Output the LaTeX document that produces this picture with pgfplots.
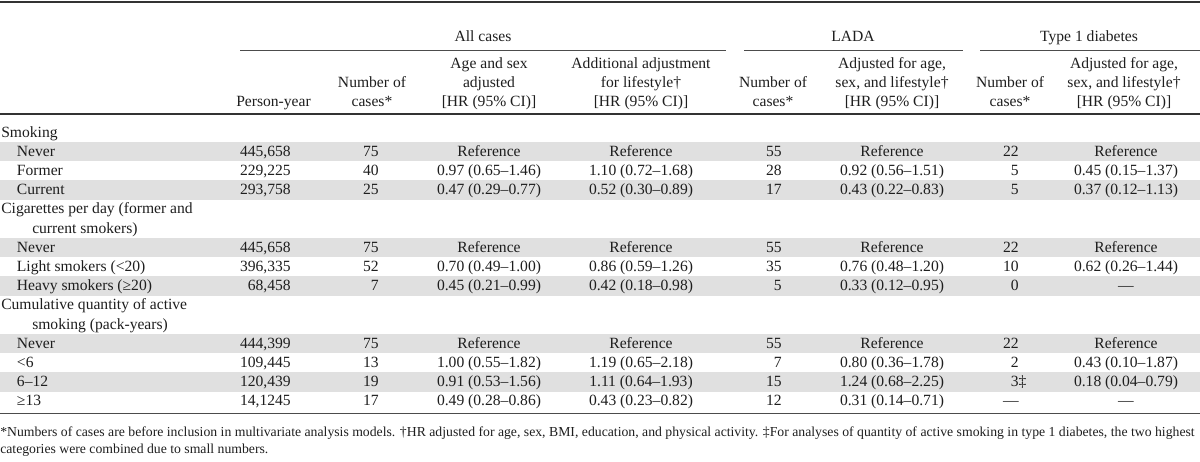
\documentclass[border=0pt]{standalone}
\usepackage{pgfplots}
\pgfplotsset{compat=1.18}
\usepackage{fontspec}
\setmainfont{Liberation Serif}
\definecolor{rowgray}{RGB}{224,224,224}
\definecolor{txt}{RGB}{30,30,30}
\newcommand\tl[3]{\node[anchor=mid west] at (axis cs:#1,#2) {#3};}
\newcommand\tc[3]{\node[anchor=mid] at (axis cs:#1,#2) {#3};}
\newcommand\tr[3]{\node[anchor=mid east] at (axis cs:#1,#2) {#3};}
% y, person-year, n, hr1, hr2, n2, hr3, n3, hr4
\newcommand\datarow[9]{%
  \tr{291}{#1}{#2}\tr{379}{#1}{#3}\tc{489}{#1}{#4}\tc{641}{#1}{#5}%
  \tr{782}{#1}{#6}\tc{892}{#1}{#7}\tr{1019}{#1}{#8}\tc{1126}{#1}{#9}}
\newcommand\band[1]{\addplot[fill=rowgray, draw=none] coordinates {(0,#1-11.4) (1200,#1-11.4) (1200,#1+7.8) (0,#1+7.8)} -- cycle;}
\begin{document}
\begin{tikzpicture}[every node/.style={inner sep=0pt, text=txt, font=\fontsize{11.7pt}{14pt}\selectfont}]
\begin{axis}[
  scale only axis, width=900pt, height=345.75pt,
  xmin=0, xmax=1200, ymin=0, ymax=461, y dir=reverse,
  hide axis, clip=false]
% gray bands
\addplot[fill=rowgray, draw=none] coordinates {(0,141.9) (1200,141.9) (1200,161.1) (0,161.1)} -- cycle;
\addplot[fill=rowgray, draw=none] coordinates {(0,180.3) (1200,180.3) (1200,199.5) (0,199.5)} -- cycle;
\addplot[fill=rowgray, draw=none] coordinates {(0,237.9) (1200,237.9) (1200,257.1) (0,257.1)} -- cycle;
\addplot[fill=rowgray, draw=none] coordinates {(0,276.3) (1200,276.3) (1200,295.5) (0,295.5)} -- cycle;
\addplot[fill=rowgray, draw=none] coordinates {(0,333.9) (1200,333.9) (1200,353.1) (0,353.1)} -- cycle;
\addplot[fill=rowgray, draw=none] coordinates {(0,372.3) (1200,372.3) (1200,391.5) (0,391.5)} -- cycle;
% rules
\draw[line width=1.5pt, color=black!80] (axis cs:0,1.5) -- (axis cs:1200,1.5);
\draw[line width=1.5pt, color=black!80] (axis cs:0,113.5) -- (axis cs:1200,113.5);
\draw[line width=0.75pt, color=black!70] (axis cs:0,413) -- (axis cs:1200,413);
\draw[line width=0.7pt, color=black!70] (axis cs:240,50.7) -- (axis cs:726,50.7);
\draw[line width=0.7pt, color=black!70] (axis cs:744,50.7) -- (axis cs:963,50.7);
\draw[line width=0.7pt, color=black!70] (axis cs:980,50.7) -- (axis cs:1200,50.7);
% header
\tc{483}{38.3}{All cases}
\tc{853}{38.3}{LADA}
\tc{1089}{38.3}{Type 1 diabetes}
\tc{273.5}{103}{Person-year}
\tc{372}{84}{Number of}\tc{372}{103}{cases*}
\tc{489}{65}{Age and sex}\tc{489}{84}{adjusted}\tc{489}{103}{[HR (95\% CI)]}
\tc{641}{65}{Additional adjustment}\tc{641}{84}{for lifestyle†}\tc{641}{103}{[HR (95\% CI)]}
\tc{773}{84}{Number of}\tc{773}{103}{cases*}
\tc{892}{65}{Adjusted for age,}\tc{892}{84}{sex, and lifestyle†}\tc{892}{103}{[HR (95\% CI)]}
\tc{1010}{84}{Number of}\tc{1010}{103}{cases*}
\tc{1124}{65}{Adjusted for age,}\tc{1124}{84}{sex, and lifestyle†}\tc{1124}{103}{[HR (95\% CI)]}
% Smoking
\tl{1}{134}{Smoking}
\tl{16.7}{153.3}{Never}
\datarow{153.3}{445,658}{75}{Reference}{Reference}{55}{Reference}{22}{Reference}
\tl{16.7}{172.5}{Former}
\datarow{172.5}{229,225}{40}{0.97 (0.65–1.46)}{1.10 (0.72–1.68)}{28}{0.92 (0.56–1.51)}{5}{0.45 (0.15–1.37)}
\tl{16.7}{191.7}{Current}
\datarow{191.7}{293,758}{25}{0.47 (0.29–0.77)}{0.52 (0.30–0.89)}{17}{0.43 (0.22–0.83)}{5}{0.37 (0.12–1.13)}
% Cigarettes
\tl{1}{210.9}{Cigarettes per day (former and}
\tl{32}{230.1}{current smokers)}
\tl{16.7}{249.3}{Never}
\datarow{249.3}{445,658}{75}{Reference}{Reference}{55}{Reference}{22}{Reference}
\tl{16.7}{268.5}{Light smokers (<20)}
\datarow{268.5}{396,335}{52}{0.70 (0.49–1.00)}{0.86 (0.59–1.26)}{35}{0.76 (0.48–1.20)}{10}{0.62 (0.26–1.44)}
\tl{16.7}{287.7}{Heavy smokers (≥20)}
\datarow{287.7}{68,458}{7}{0.45 (0.21–0.99)}{0.42 (0.18–0.98)}{5}{0.33 (0.12–0.95)}{0}{—}
% Cumulative
\tl{1}{306.9}{Cumulative quantity of active}
\tl{32}{326.1}{smoking (pack-years)}
\tl{16.7}{345.3}{Never}
\datarow{345.3}{444,399}{75}{Reference}{Reference}{55}{Reference}{22}{Reference}
\tl{16.7}{364.5}{<6}
\datarow{364.5}{109,445}{13}{1.00 (0.55–1.82)}{1.19 (0.65–2.18)}{7}{0.80 (0.36–1.78)}{2}{0.43 (0.10–1.87)}
\tl{16.7}{383.7}{6–12}
\datarow{383.7}{120,439}{19}{0.91 (0.53–1.56)}{1.11 (0.64–1.93)}{15}{1.24 (0.68–2.25)}{3\rlap{‡}}{0.18 (0.04–0.79)}
\tl{16.7}{402.9}{≥13}
\datarow{402.9}{14,1245}{17}{0.49 (0.28–0.86)}{0.43 (0.23–0.82)}{12}{0.31 (0.14–0.71)}{—}{—}
% footnotes
\node[anchor=mid west, font=\fontsize{10.3pt}{12pt}\selectfont] at (axis cs:0,433) {*Numbers of cases are before inclusion in multivariate analysis models. †HR adjusted for age, sex, BMI, education, and physical activity. ‡For analyses of quantity of active smoking in type 1 diabetes, the two highest};
\node[anchor=mid west, font=\fontsize{10.3pt}{12pt}\selectfont] at (axis cs:0,450) {categories were combined due to small numbers.};
\end{axis}
\pgfresetboundingbox
\path (current axis.south west) rectangle (current axis.north east);
\end{tikzpicture}
\end{document}
